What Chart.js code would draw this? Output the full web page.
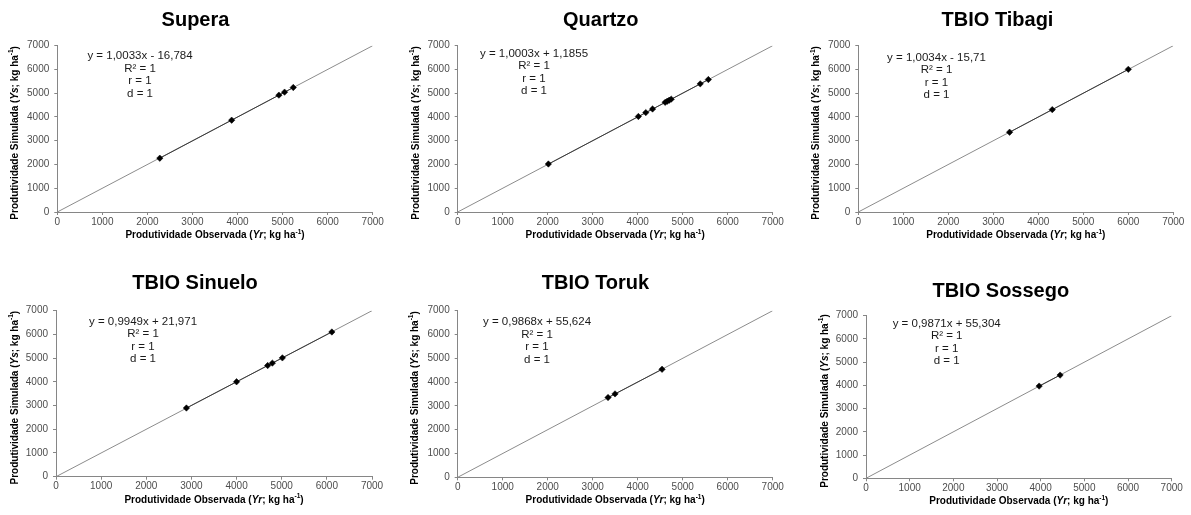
<!DOCTYPE html>
<html><head><meta charset="utf-8">
<script src="https://cdn.jsdelivr.net/npm/chart.js@4/dist/chart.umd.min.js"></script>
<style>
html,body{margin:0;padding:0;background:#fff;}
#wrap{position:relative;width:1191px;height:515px;overflow:hidden;background:#fff;}
#wrap canvas{position:absolute;}
</style></head><body><div id="wrap"></div>
<script>
// ---------- data ----------
const titles = ['Supera', 'Quartzo', 'TBIO Tibagi', 'TBIO Sinuelo', 'TBIO Toruk', 'TBIO Sossego'];
const equations = ['y = 1,0033x - 16,784', 'y = 1,0003x + 1,1855', 'y = 1,0034x - 15,71',
                   'y = 0,9949x + 21,971', 'y = 0,9868x + 55,624', 'y = 0,9871x + 55,304'];
const slopes = [1.0033, 1.0003, 1.0034, 0.9949, 0.9868, 0.9871];
const intercepts = [-16.784, 1.1855, -15.71, 21.971, 55.624, 55.304];
const statLines = ['R² = 1', 'r = 1', 'd = 1'];

const superaObs = [2275, 3870, 4918, 5044, 5237];
const superaSim = [2265, 3865, 4918, 5045, 5240];
const quartzoObs = [2015, 4015, 4180, 4330, 4610, 4655, 4700, 4745, 5390, 5570];
const quartzoSim = [2020, 4020, 4185, 4335, 4615, 4660, 4705, 4750, 5395, 5575];
const tibagiObs = [3362, 4310, 6000];
const tibagiSim = [3358, 4309, 6005];
const sinueloObs = [2889, 4000, 4689, 4793, 5015, 6111];
const sinueloSim = [2896, 4002, 4687, 4790, 5011, 6102];
const torukObs = [3341, 3496, 4541];
const torukSim = [3352, 3505, 4537];
const sossegoObs = [3965, 4445];
const sossegoSim = [3969, 4443];

const observed = [superaObs, quartzoObs, tibagiObs, sinueloObs, torukObs, sossegoObs];
const simulated = [superaSim, quartzoSim, tibagiSim, sinueloSim, torukSim, sossegoSim];

const tickValues = [0, 1000, 2000, 3000, 4000, 5000, 6000, 7000];
const tickLabels = ['0', '1000', '2000', '3000', '4000', '5000', '6000', '7000'];
const oneToOne = [0, 7000];

// ---------- layout (page pixels) ----------
const boxes = [ // canvas box: left, top, width, height
  [0, 0, 400, 250], [400, 0, 400, 250], [800, 0, 391, 250],
  [0, 250, 400, 265], [400, 250, 400, 265], [800, 250, 391, 265]
];
const areas = [ // chart area: left, right, top, bottom
  [57.3, 372.7, 45.7, 212], [457.7, 772.7, 45.7, 212], [858.3, 1173.3, 45.7, 212],
  [56, 372, 310.7, 476.7], [457.7, 772.7, 310.7, 477.3], [866, 1171.7, 315.7, 478.3]
];
const titlePos = [[195.5, 20], [600.8, 20], [997.5, 20], [195, 283.3], [595.5, 283], [1000.8, 291.7]];
const eqPos = [[140, 56], [534, 53.5], [936.5, 57.5], [143, 321.7], [537, 322], [946.7, 323.5]];
const eqSpacing = 12.5;
const yTitleX = [15, 416, 816.7, 15, 415, 825];

const FONT = '"Liberation Sans", Arial, Helvetica, sans-serif';
const AXIS_GRAY = '#868686';

function drawRich(ctx, parts, cx, cy) {
  let total = 0;
  parts.forEach(p => { ctx.font = p.f; p.w = ctx.measureText(p.t).width; total += p.w; });
  let x = cx - total / 2;
  ctx.textAlign = 'left';
  ctx.textBaseline = 'middle';
  parts.forEach(p => { ctx.font = p.f; ctx.fillText(p.t, x, cy + (p.dy || 0)); x += p.w; });
}

function axisParts(prefix, sym) {
  return [
    {t: prefix + ' (', f: 'bold 10px ' + FONT},
    {t: sym, f: 'italic bold 10px ' + FONT},
    {t: '; kg ha', f: 'bold 10px ' + FONT},
    {t: '-1', f: 'bold 6.5px ' + FONT, dy: -3.5},
    {t: ')', f: 'bold 10px ' + FONT}
  ];
}

const wrap = document.getElementById('wrap');

for (let i = 0; i < 6; i++) {
  const [bl, bt, bw, bh] = boxes[i];
  const [L, R, T, B] = areas[i];
  const cv = document.createElement('canvas');
  cv.width = bw; cv.height = bh;
  cv.style.left = bl + 'px'; cv.style.top = bt + 'px';
  cv.style.width = bw + 'px'; cv.style.height = bh + 'px';
  wrap.appendChild(cv);

  const obs = observed[i], sim = simulated[i];
  const xmin = Math.min(...obs), xmax = Math.max(...obs);
  const a = slopes[i], b = intercepts[i];

  const textPlugin = {
    id: 'panelText' + i,
    afterDraw(chart) {
      const ctx = chart.ctx;
      ctx.save();
      ctx.fillStyle = '#000';
      // title
      ctx.font = 'bold 20px ' + FONT;
      ctx.textAlign = 'center';
      ctx.textBaseline = 'middle';
      ctx.fillText(titles[i], titlePos[i][0] - bl, titlePos[i][1] - bt);
      // equation block
      ctx.font = '11.5px ' + FONT;
      ctx.fillStyle = '#1a1a1a';
      const ex = eqPos[i][0] - bl, ey = eqPos[i][1] - bt;
      [equations[i]].concat(statLines).forEach((s, k) => ctx.fillText(s, ex, ey + k * eqSpacing));
      // axis titles
      ctx.fillStyle = '#000';
      const ca = chart.chartArea;
      drawRich(ctx, axisParts('Produtividade Observada', 'Yr'), (ca.left + ca.right) / 2, ca.bottom + 23.3);
      ctx.save();
      ctx.translate(yTitleX[i] - bl, (ca.top + ca.bottom) / 2 + 4);
      ctx.rotate(-Math.PI / 2);
      drawRich(ctx, axisParts('Produtividade Simulada', 'Ys'), 0, 0);
      ctx.restore();
      ctx.restore();
    }
  };

  const axisCommon = {
    type: 'linear', min: tickValues[0], max: tickValues[tickValues.length - 1],
    border: {display: true, color: AXIS_GRAY, width: 1},
    grid: {display: true, drawOnChartArea: false, drawTicks: true, tickLength: 3, color: AXIS_GRAY},
  };

  new Chart(cv, {
    type: 'scatter',
    data: {
      datasets: [
        {
          type: 'scatter',
          data: obs.map((x, k) => ({x: x, y: sim[k]})),
          pointStyle: 'rectRot', pointRadius: 3.2,
          backgroundColor: '#000', borderColor: '#000', borderWidth: 0.5,
          order: 0
        },
        {
          type: 'line',
          data: [{x: xmin, y: a * xmin + b}, {x: xmax, y: a * xmax + b}],
          borderColor: '#3a3a3a', borderWidth: 1, pointRadius: 0, fill: false,
          order: 1
        },
        {
          type: 'line',
          data: [{x: oneToOne[0], y: oneToOne[0]}, {x: oneToOne[1], y: oneToOne[1]}],
          borderColor: '#8c8c8c', borderWidth: 1, pointRadius: 0, fill: false,
          order: 2
        }
      ]
    },
    options: {
      responsive: false,
      animation: false,
      events: [],
      layout: {padding: {left: 0, right: bw - (R - bl), top: T - bt, bottom: 0}},
      plugins: {legend: {display: false}, tooltip: {enabled: false}, title: {display: false}},
      scales: {
        x: Object.assign({}, axisCommon, {
          position: 'bottom',
          ticks: {stepSize: 1000, padding: 1, color: '#4d4d4d', font: {family: FONT, size: 10},
                  maxRotation: 0, autoSkip: false,
                  callback: v => { const k = tickValues.indexOf(v); return k >= 0 ? tickLabels[k] : ''; }},
          afterFit: s => { s.height = bh - (B - bt); }
        }),
        y: Object.assign({}, axisCommon, {
          position: 'left',
          ticks: {stepSize: 1000, padding: 5, color: '#4d4d4d', font: {family: FONT, size: 10},
                  autoSkip: false,
                  callback: v => { const k = tickValues.indexOf(v); return k >= 0 ? tickLabels[k] : ''; }},
          afterFit: s => { s.width = L - bl; }
        })
      }
    },
    plugins: [textPlugin]
  });
}
</script>
</body></html>
